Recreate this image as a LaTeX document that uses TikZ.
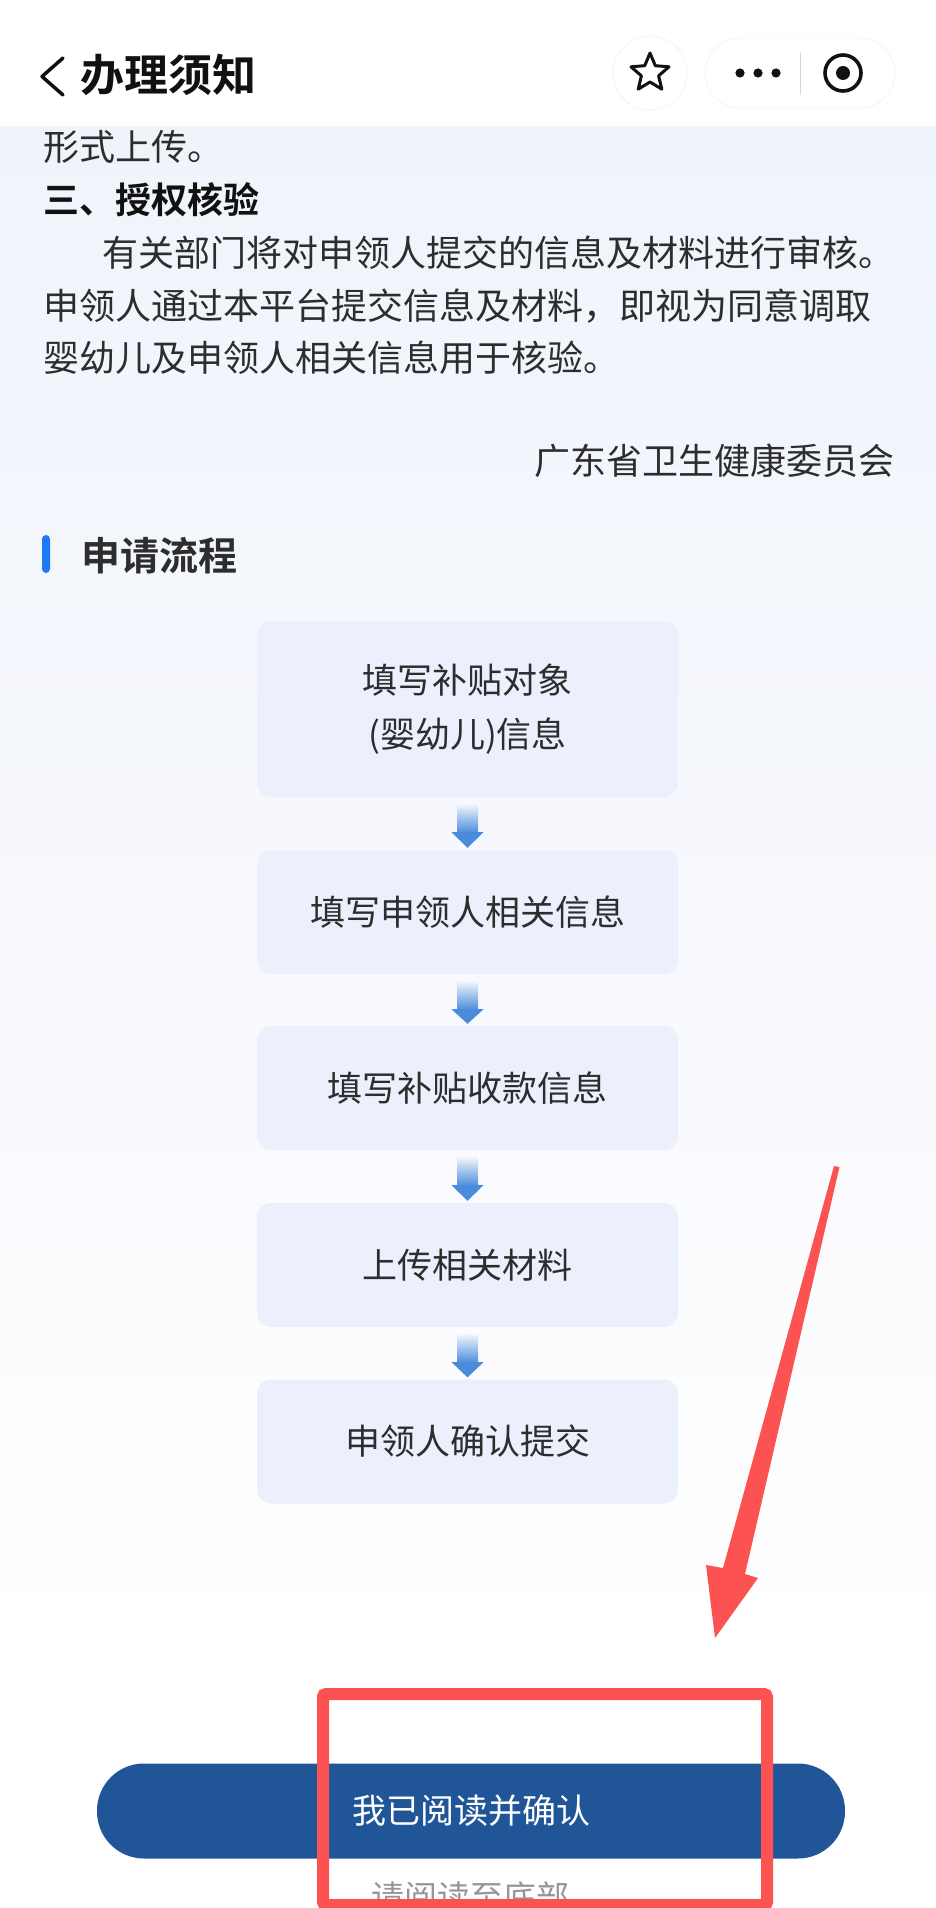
\documentclass[tikz,border=0pt]{standalone}
\usepackage{fontspec}
\setmainfont{Noto Sans CJK SC}[BoldFont={Noto Sans CJK SC Bold}]
\usetikzlibrary{calc}
\definecolor{bodytxt}{RGB}{45,45,45}
\definecolor{titletxt}{RGB}{17,17,17}
\definecolor{bgtop}{RGB}{239,244,251}
\definecolor{bgmid}{RGB}{249,250,254}
\definecolor{boxfill}{RGB}{236,239,252}
\definecolor{arrblue}{RGB}{74,139,220}
\definecolor{barblue}{RGB}{30,122,242}
\definecolor{btnblue}{RGB}{32,86,152}
\definecolor{annred}{RGB}{252,82,82}
\definecolor{faint}{RGB}{236,236,236}
\definecolor{graytxt}{RGB}{150,150,150}
\tikzset{
  bodyline/.style={anchor=west, inner sep=0pt, text=bodytxt, font=\fontsize{36}{36}\selectfont},
  stepbox/.style={fill=boxfill, rounded corners=14pt, minimum width=421pt, inner sep=0pt,
    text=bodytxt, font=\fontsize{35}{54}\selectfont, align=center},
  btn/.style={fill=btnblue, rounded corners=47pt, minimum width=748pt, minimum height=95pt,
    inner sep=0pt, text=white, font=\fontsize{34}{34}\selectfont},
}
\newcommand\flowarr[2]{%
  \shade[top color=arrblue!4, bottom color=arrblue] ($(#1.south)+(-10.5,6)$) rectangle ($(#1.south)+(10.5,36)$);
  \fill[arrblue] ($(#1.south)+(-16,35)$) -- ($(#1.south)+(16,35)$) -- ($(#2.north)+(0,-2)$) -- cycle;
}
\begin{document}
\begin{tikzpicture}[x=1pt,y=-1pt]
\useasboundingbox (0,0) rectangle (936,1908);
\fill[white] (0,0) rectangle (936,1908);
\shade[top color=bgtop, bottom color=bgmid] (0,127) rectangle (936,1100);
\shade[top color=bgmid, bottom color=white] (0,1100) rectangle (936,1650);

% header
\draw[titletxt, line width=3.5pt, line cap=round, line join=round] (63,58) -- (42,76.5) -- (63,95);
\node[anchor=west, inner sep=0pt, text=titletxt, font=\fontsize{44}{44}\selectfont\bfseries] (title) at (80,75) {办理须知};
\node[circle, draw=faint, fill=white, minimum size=74pt, inner sep=0pt] (starbtn) at (650,73) {};
\draw[titletxt, line width=3pt, line join=round]
  ($(starbtn.center)+(0,-20)$)
  -- ($(starbtn.center)+(-5.3,-7.3)$) -- ($(starbtn.center)+(-19,-6.2)$) -- ($(starbtn.center)+(-8.6,2.8)$)
  -- ($(starbtn.center)+(-11.8,16.2)$) -- ($(starbtn.center)+(0,9)$) -- ($(starbtn.center)+(11.8,16.2)$)
  -- ($(starbtn.center)+(8.6,2.8)$) -- ($(starbtn.center)+(19,-6.2)$) -- ($(starbtn.center)+(5.3,-7.3)$) -- cycle;
\node[draw=faint, fill=white, rounded corners=35pt, minimum width=190pt, minimum height=70pt, inner sep=0pt] (capsule) at (800,73) {};
\fill[titletxt] (740,73) circle (4.6pt) (758,73) circle (4.6pt) (776,73) circle (4.6pt);
\draw[faint!80!gray, line width=1pt] (800,52) -- (800,95);
\draw[titletxt, line width=3.6pt] (843,73) circle (18pt);
\fill[titletxt] (843,73) circle (7pt);

% body text
\node[bodyline] (l1) at (43,147) {形式上传。};
\node[bodyline, text=titletxt, font=\fontsize{36}{36}\selectfont\bfseries] (l2) at (43,200) {三、授权核验};
\node[bodyline] (l3) at (102,253) {有关部门将对申领人提交的信息及材料进行审核。};
\node[bodyline] (l4) at (43,306) {申领人通过本平台提交信息及材料，即视为同意调取};
\node[bodyline] (l5) at (43,358) {婴幼儿及申领人相关信息用于核验。};
\node[bodyline, anchor=east] (sig) at (895,461) {广东省卫生健康委员会};

% section heading
\fill[barblue, rounded corners=4pt] (42,535) rectangle (50,573);
\node[bodyline, text=bodytxt, font=\fontsize{39}{39}\selectfont\bfseries] (sec) at (81,556) {申请流程};

% flow
\node[stepbox, minimum height=176pt] (b1) at (467.5,709) {填写补贴对象\\(婴幼儿)信息};
\node[stepbox, minimum height=124pt] (b2) at (467.5,912) {填写申领人相关信息};
\node[stepbox, minimum height=124pt] (b3) at (467.5,1088) {填写补贴收款信息};
\node[stepbox, minimum height=124pt] (b4) at (467.5,1265) {上传相关材料};
\node[stepbox, minimum height=124pt] (b5) at (467.5,1441.5) {申领人确认提交};
\flowarr{b1}{b2}
\flowarr{b2}{b3}
\flowarr{b3}{b4}
\flowarr{b4}{b5}

% bottom button
\node[btn] (ok) at (471,1811) {我已阅读并确认};
\node[inner sep=0pt, text=graytxt, font=\fontsize{33}{33}\selectfont] (hint) at (470,1897) {请阅读至底部};

% annotation
\node[draw=annred, line width=12pt, rounded corners=3pt, minimum width=444pt, minimum height=211pt, inner sep=0pt] (frame) at (545,1799.5) {};
\coordinate (tailA) at (834,1166);
\coordinate (tailB) at (839.5,1167);
\coordinate (tip) at (715,1638);
\fill[annred, line join=round] (tailA) -- (tailB) -- (745,1574) -- (758,1578) -- (tip) -- (706,1565) -- (723,1568) -- cycle;
\end{tikzpicture}
\end{document}
